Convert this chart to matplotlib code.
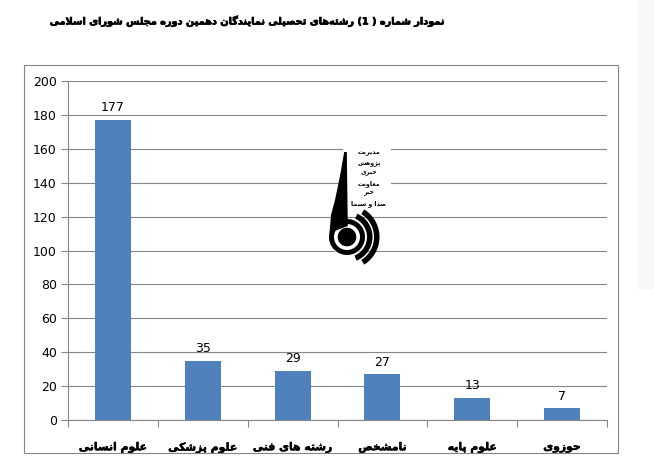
import numpy as np
import matplotlib
matplotlib.use("Agg")
import matplotlib.pyplot as plt
import matplotlib.patheffects as pe
from matplotlib.patches import Polygon, Rectangle

# ---- chart content ----
title = "نمودار شماره ( 1) رشته‌های تحصیلی نمایندگان دهمین دوره مجلس شورای اسلامی"
categories = ["علوم انسانی", "علوم پزشکی", "رشته های فنی", "نامشخص", "علوم پایه", "حوزوی"]
values = [177, 35, 29, 27, 13, 7]
y_ticks = [0, 20, 40, 60, 80, 100, 120, 140, 160, 180, 200]
logo_lines = ["مدیریت", "پژوهش", "خبری", "معاونت", "خبر", "صدا و سیما"]

# ---- minimal Persian shaping (presentation forms + visual order) ----
FORMS = {
    "ا": (0xFE8D, 0xFE8E, None, None),
    "ب": (0xFE8F, 0xFE90, 0xFE91, 0xFE92),
    "پ": (0xFB56, 0xFB57, 0xFB58, 0xFB59),
    "ت": (0xFE95, 0xFE96, 0xFE97, 0xFE98),
    "ج": (0xFE9D, 0xFE9E, 0xFE9F, 0xFEA0),
    "ح": (0xFEA1, 0xFEA2, 0xFEA3, 0xFEA4),
    "خ": (0xFEA5, 0xFEA6, 0xFEA7, 0xFEA8),
    "د": (0xFEA9, 0xFEAA, None, None),
    "ر": (0xFEAD, 0xFEAE, None, None),
    "ز": (0xFEAF, 0xFEB0, None, None),
    "ژ": (0xFB8A, 0xFB8B, None, None),
    "س": (0xFEB1, 0xFEB2, 0xFEB3, 0xFEB4),
    "ش": (0xFEB5, 0xFEB6, 0xFEB7, 0xFEB8),
    "ص": (0xFEB9, 0xFEBA, 0xFEBB, 0xFEBC),
    "ع": (0xFEC9, 0xFECA, 0xFECB, 0xFECC),
    "ف": (0xFED1, 0xFED2, 0xFED3, 0xFED4),
    "ک": (0xFB8E, 0xFB8F, 0xFB90, 0xFB91),
    "گ": (0xFB92, 0xFB93, 0xFB94, 0xFB95),
    "ل": (0xFEDD, 0xFEDE, 0xFEDF, 0xFEE0),
    "م": (0xFEE1, 0xFEE2, 0xFEE3, 0xFEE4),
    "ن": (0xFEE5, 0xFEE6, 0xFEE7, 0xFEE8),
    "و": (0xFEED, 0xFEEE, None, None),
    "ه": (0xFEE9, 0xFEEA, 0xFEEB, 0xFEEC),
    "ی": (0xFBFC, 0xFBFD, 0xFBFE, 0xFBFF),
}


def _dual(ch):
    return ch in FORMS and FORMS[ch][2] is not None


def shape(text):
    out = []
    i, n = 0, len(text)
    while i < n:
        c = text[i]
        if c not in FORMS:
            if c != "\u200c":
                out.append(c)
            i += 1
            continue
        prev = text[i - 1] if i > 0 else ""
        nxt = text[i + 1] if i + 1 < n else ""
        join_prev = _dual(prev)
        if c == "ل" and nxt == "ا":
            out.append("\ufefc" if join_prev else "\ufefb")
            i += 2
            continue
        join_next = _dual(c) and nxt in FORMS
        iso, fin, ini, med = FORMS[c]
        if join_prev and join_next:
            code = med
        elif join_prev:
            code = fin
        elif join_next:
            code = ini
        else:
            code = iso
        out.append(chr(code))
        i += 1
    s = "".join(reversed(out))
    return s.translate(str.maketrans("()", ")("))


W, H = 654, 468
GRAY = "#868686"
BAR = "#4F81BD"


def heavy(lw):
    return dict(fontweight="bold",
                path_effects=[pe.withStroke(linewidth=lw, foreground="black")])


plt.rcParams["font.family"] = ["DejaVu Sans"]
fig = plt.figure(figsize=(W / 100, H / 100), dpi=100)
fig.patch.set_facecolor("white")

# faint strip at the right edge
fig.patches.append(Rectangle((638 / W, 1 - 289 / H), 16 / W, 289 / H,
                             transform=fig.transFigure, facecolor="#FAF7FA",
                             edgecolor="none", zorder=0))
# chart frame
fig.patches.append(Rectangle((24 / W, 1 - 453 / H), 594 / W, 388 / H,
                             transform=fig.transFigure, fill=False,
                             edgecolor=GRAY, linewidth=0.8, zorder=1))

ax = fig.add_axes([68 / W, 1 - 420 / H, 539 / W, 339 / H])
x = np.arange(len(categories))
ax.bar(x, values, width=0.4, color=BAR, zorder=2)
ax.set_xlim(-0.5, len(categories) - 0.5)
ax.set_ylim(0, 200)
ax.set_yticks(y_ticks)
ax.yaxis.grid(True, color=GRAY, linewidth=0.8)
ax.set_axisbelow(True)
for side in ("top", "right"):
    ax.spines[side].set_visible(False)
for side in ("left", "bottom"):
    ax.spines[side].set_color(GRAY)
    ax.spines[side].set_linewidth(0.8)
ax.tick_params(axis="y", length=5, width=0.8, color=GRAY, labelsize=9, pad=3)
ax.set_xticks(np.arange(-0.5, len(categories), 1.0))
ax.set_xticklabels([])
ax.set_xticks(x, minor=True)
ax.set_xticklabels([shape(c) for c in categories], minor=True, fontsize=7.8,
                   **heavy(0.35))
ax.tick_params(axis="x", which="minor", length=0, pad=16)
ax.tick_params(axis="x", which="major", length=5, width=0.8, color=GRAY)

for xi, v in zip(x, values):
    ax.annotate(str(v), (xi, v), xytext=(0, 4), textcoords="offset points",
                ha="center", va="bottom", fontsize=9)

fig.text(247 / W, 1 - 21 / H, shape(title), ha="center", va="center",
         fontsize=7.0, **heavy(0.5))

# ---- emblem in the middle of the plot ----
lax = fig.add_axes([0, 0, 1, 1], zorder=5)
lax.set_xlim(0, W)
lax.set_ylim(H, 0)
lax.axis("off")
lax.patch.set_alpha(0)

cx, cy = 347.0, 237.0


def band(r0, r1, a0, a1, n=80):
    a = np.radians(np.linspace(a0, a1, n))
    outer = np.c_[cx + r1 * np.cos(a), cy - r1 * np.sin(a)]
    inner = np.c_[cx + r0 * np.cos(a[::-1]), cy - r0 * np.sin(a[::-1])]
    return np.vstack([outer, inner])


lax.add_patch(Rectangle((343, 145), 48, 70, facecolor="white", edgecolor="none"))
lax.add_patch(Polygon(band(0, 19, 0, 360), facecolor="white", edgecolor="none"))
stem = [(344.2, 152), (346.8, 152), (347.8, 226), (329.5, 233),
        (331.0, 215), (335.0, 200), (340.0, 176)]
lax.add_patch(Polygon(stem, facecolor="black", edgecolor="none"))
lax.add_patch(Polygon(band(13, 18, 0, 360, 160), facecolor="black", edgecolor="none"))
lax.add_patch(Polygon(band(0, 9.3, 0, 360, 120), facecolor="black", edgecolor="none"))
lax.add_patch(Polygon(band(20, 25.5, -68, 66), facecolor="black", edgecolor="none"))
lax.add_patch(Polygon(band(27, 32.5, -58, 58), facecolor="black", edgecolor="none"))

for k, line in enumerate(logo_lines):
    lax.text(369, 154 + k * 10, shape(line), ha="center", va="center",
             fontsize=4.5, fontweight="bold")

fig.savefig("out.png", dpi=100, facecolor="white")
